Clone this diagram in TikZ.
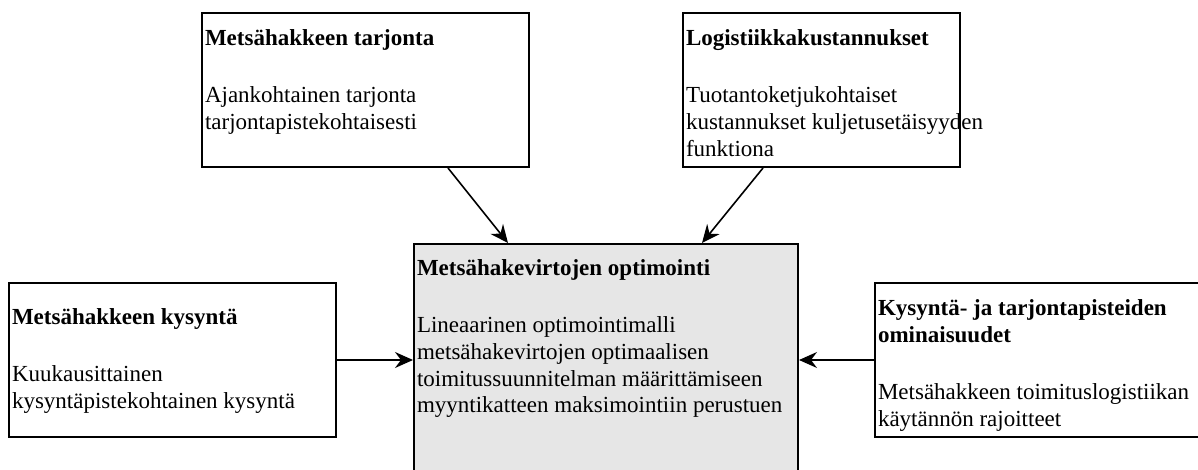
\documentclass[tikz,border=0pt]{standalone}
\usepackage{fontspec}
\setmainfont{Liberation Serif}
\usetikzlibrary{arrows.meta}
\definecolor{hubgray}{RGB}{230,230,230}
\tikzset{
  card/.style={draw=black, line width=1pt, anchor=north west, inner xsep=1.5pt, inner ysep=0pt,
    font=\fontsize{11.5}{13.35}\selectfont},
  flow/.style={line width=0.8pt, -{Stealth[length=9pt,width=8pt,inset=3pt]}}
}

\begin{document}
\begin{tikzpicture}[x=0.5pt,y=0.5pt,yscale=-1,xscale=1]
\useasboundingbox (0,0) rectangle (1198,470);

%Shape: Rectangle [supply]
\node[card] (supply) at (201,12) {\parbox[c][77pt][t]{160.5pt}{\vspace*{7.15pt}\strut\textbf{Metsähakkeen tarjonta}\\[15pt]Ajankohtainen tarjonta\\tarjontapistekohtaisesti}};
%Shape: Rectangle [costs]
\node[card] (costs) at (682,12) {\parbox[c][77pt][t]{135.5pt}{\vspace*{7.15pt}\strut\textbf{Logistiikkakustannukset}\\[15pt]Tuotantoketjukohtaiset\\\mbox{kustannukset kuljetusetäisyyden}\\funktiona}};
%Shape: Rectangle [optim]
\node[card, fill=hubgray] (optim) at (413,243) {\parbox[c][133.5pt][t]{189pt}{\vspace*{6.65pt}\strut\textbf{Metsähakevirtojen optimointi}\\[15pt]Lineaarinen optimointimalli\\metsähakevirtojen optimaalisen\\toimitussuunnitelman määrittämiseen\\myyntikatteen maksimointiin perustuen}};
%Shape: Rectangle [demand]
\node[card] (demand) at (8,282) {\parbox[c][77pt][t]{160.5pt}{\vspace*{11.65pt}\strut\textbf{Metsähakkeen kysyntä}\\[15pt]Kuukausittainen\\kysyntäpistekohtainen kysyntä}};
%Shape: Rectangle [points]
\node[card] (points) at (874,282) {\parbox[c][77pt][t]{165pt}{\vspace*{7.15pt}\strut\textbf{Kysyntä- ja tarjontapisteiden}\\\textbf{ominaisuudet}\\[15pt]Metsähakkeen toimituslogistiikan\\käytännön rajoitteet}};

%Straight Lines
\draw[flow] ([xshift=123.5pt]supply.south west) -- ([xshift=47.5pt]optim.north west);
%Straight Lines
\draw[flow] ([xshift=40.5pt]costs.south west) -- ([xshift=144.5pt]optim.north west);
%Straight Lines
\draw[flow] (demand.east) -- (demand.east -| optim.west);
%Straight Lines
\draw[flow] (points.west) -- (points.west -| optim.east);
\end{tikzpicture}
\end{document}
